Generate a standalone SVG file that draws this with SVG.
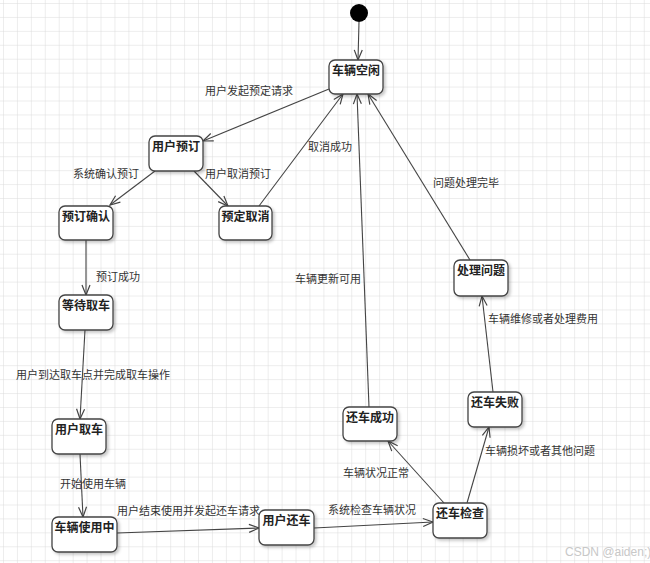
<svg xmlns="http://www.w3.org/2000/svg" width="650" height="563" viewBox="0 0 650 563">
<defs>
<pattern id="grid" x="3" y="3" width="13.93" height="13.93" patternUnits="userSpaceOnUse">
<path d="M0,0 H13.93 M0,0 V13.93" stroke="#dcdcdc" stroke-width="1" fill="none"/>
</pattern>
<marker id="arr" viewBox="0 0 12 10" refX="11" refY="5" markerWidth="12" markerHeight="10" markerUnits="userSpaceOnUse" orient="auto">
<path d="M1,1 L11,5 L1,9" fill="none" stroke="#444" stroke-width="1.2"/>
</marker>
<filter id="sh" x="-20%" y="-20%" width="150%" height="150%">
<feDropShadow dx="2" dy="2" stdDeviation="1.5" flood-color="#000" flood-opacity="0.22"/>
</filter>
</defs>
<style>
.node rect{fill:#fff;stroke:#444;stroke-width:1.3;filter:url(#sh)}
.node text{font-family:"Liberation Sans","Noto Sans CJK SC",sans-serif;font-size:12px;font-weight:bold;fill:#222;text-anchor:middle}
.edges line{stroke:#444;stroke-width:1.1;marker-end:url(#arr)}
.lbl{font-family:"Liberation Sans","Noto Sans CJK SC",sans-serif;font-size:11px;fill:#333}
.wm{font-family:"Liberation Sans","Noto Sans CJK SC",sans-serif;font-size:12px;fill:#c8c8c8}
</style>
<rect width="650" height="563" fill="#fff"/>
<rect width="650" height="563" fill="url(#grid)"/>

<g id="edges" class="edges">
<line x1="359" y1="22" x2="358" y2="60"/>
<line x1="329" y1="89" x2="203" y2="141"/>
<line x1="155" y1="171" x2="110" y2="205"/>
<line x1="194" y1="171" x2="228" y2="206"/>
<line x1="259" y1="206" x2="343" y2="94"/>
<line x1="86" y1="240" x2="86" y2="295"/>
<line x1="85" y1="330" x2="80" y2="419"/>
<line x1="80" y1="454" x2="83" y2="517"/>
<line x1="117" y1="533" x2="259" y2="528"/>
<line x1="314" y1="528" x2="433" y2="522"/>
<line x1="444" y1="503" x2="388" y2="441"/>
<line x1="467" y1="503" x2="489" y2="427"/>
<line x1="493" y1="392" x2="482" y2="296"/>
<line x1="369" y1="407" x2="357" y2="94"/>
<line x1="470" y1="260" x2="368" y2="94"/>
</g>

<g id="initial"><circle cx="359" cy="13" r="9" fill="#000"/></g>

<g id="n-idle" class="node"><rect x="329" y="60" width="54" height="34" rx="6"/><text x="356" y="75">车辆空闲</text></g>
<g id="n-reserve" class="node"><rect x="149" y="136" width="54" height="35" rx="6"/><text x="176" y="151">用户预订</text></g>
<g id="n-confirm" class="node"><rect x="59" y="206" width="54" height="34" rx="6"/><text x="86" y="221">预订确认</text></g>
<g id="n-cancel" class="node"><rect x="219" y="206" width="53" height="34" rx="6"/><text x="245.5" y="221">预定取消</text></g>
<g id="n-wait" class="node"><rect x="59" y="295" width="54" height="35" rx="6"/><text x="86" y="310">等待取车</text></g>
<g id="n-pickup" class="node"><rect x="52" y="419" width="54" height="35" rx="6"/><text x="79" y="434">用户取车</text></g>
<g id="n-inuse" class="node"><rect x="52" y="517" width="65" height="35" rx="6"/><text x="84.5" y="532">车辆使用中</text></g>
<g id="n-return" class="node"><rect x="259" y="510" width="55" height="35" rx="6"/><text x="286.5" y="525">用户还车</text></g>
<g id="n-check" class="node"><rect x="433" y="503" width="54" height="35" rx="6"/><text x="460" y="518">还车检查</text></g>
<g id="n-ok" class="node"><rect x="343" y="407" width="54" height="34" rx="6"/><text x="370" y="422">还车成功</text></g>
<g id="n-fail" class="node"><rect x="468" y="392" width="54" height="35" rx="6"/><text x="495" y="407">还车失败</text></g>
<g id="n-handle" class="node"><rect x="454" y="260" width="54" height="36" rx="6"/><text x="481" y="275">处理问题</text></g>

<g id="labels">
<text class="lbl" x="205" y="95">用户发起预定请求</text>
<text class="lbl" x="308" y="151">取消成功</text>
<text class="lbl" x="73" y="178">系统确认预订</text>
<text class="lbl" x="205" y="178">用户取消预订</text>
<text class="lbl" x="96" y="281">预订成功</text>
<text class="lbl" x="433" y="187">问题处理完毕</text>
<text class="lbl" x="295" y="283">车辆更新可用</text>
<text class="lbl" x="16" y="379">用户到达取车点并完成取车操作</text>
<text class="lbl" x="60" y="488">开始使用车辆</text>
<text class="lbl" x="117" y="515">用户结束使用并发起还车请求</text>
<text class="lbl" x="328" y="514">系统检查车辆状况</text>
<text class="lbl" x="343" y="477">车辆状况正常</text>
<text class="lbl" x="485" y="455">车辆损坏或者其他问题</text>
<text class="lbl" x="488" y="323">车辆维修或者处理费用</text>
<text class="wm" x="565" y="556">CSDN @aiden;)</text>
</g>
</svg>
